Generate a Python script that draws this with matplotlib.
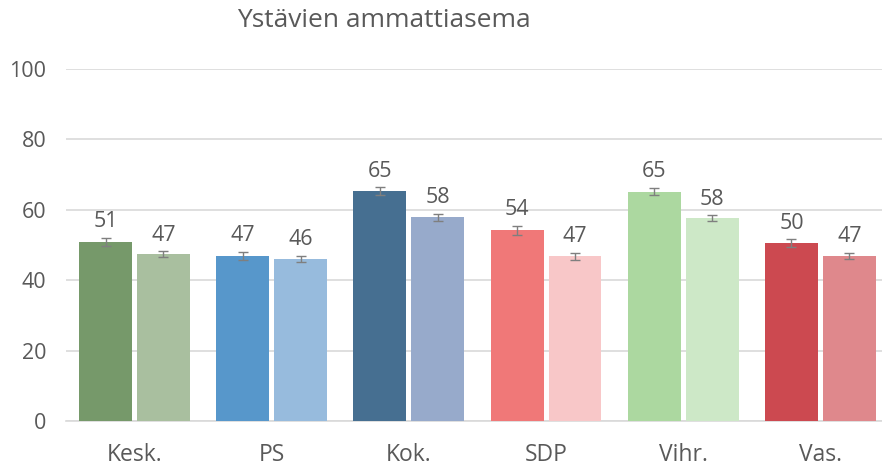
import matplotlib.pyplot as plt
import numpy as np

parties = ['Kesk.', 'PS', 'Kok.', 'SDP', 'Vihr.', 'Vas.']
vals_a = [50.8, 46.8, 65.2, 54.1, 65.1, 50.5]
vals_b = [47.3, 45.9, 57.8, 46.8, 57.6, 46.8]
err_a = [1.1, 1.2, 1.1, 1.3, 1.1, 1.1]
err_b = [0.8, 0.9, 1.0, 1.0, 0.8, 0.9]
labels_a = ['51', '47', '65', '54', '65', '50']
labels_b = ['47', '46', '58', '47', '58', '47']
colors_a = ['#76996a', '#5797cb', '#466f91', '#f07878', '#acd8a0', '#cc4950']
colors_b = ['#a9bf9f', '#97bbdd', '#97aacb', '#f8c7c8', '#cde8c7', '#df888c']

plt.rcParams['font.family'] = ['Open Sans', 'DejaVu Sans']
txt = '#595959'

fig = plt.figure(figsize=(8.82, 4.69), dpi=100)
# right edge runs past the figure, as in the original
ax = fig.add_axes([0.0748, 0.1023, 0.9331, 0.7515])

x = np.arange(len(parties))
w = 0.386
gap = 0.018
xa = x - w/2 - gap
xb = x + w/2 + gap
ax.bar(xa, vals_a, w, color=colors_a, zorder=3)
ax.bar(xb, vals_b, w, color=colors_b, zorder=3)
ax.errorbar(xa, vals_a, yerr=err_a, fmt='none', ecolor='#7f7f7f', elinewidth=1, capsize=3.6, zorder=4)
ax.errorbar(xb, vals_b, yerr=err_b, fmt='none', ecolor='#7f7f7f', elinewidth=1, capsize=3.6, zorder=4)
for xi, v, e, l in zip(xa, vals_a, err_a, labels_a):
    ax.text(xi, v + e + 1.6, l, ha='center', va='bottom', fontsize=15.5, color=txt)
for xi, v, e, l in zip(xb, vals_b, err_b, labels_b):
    ax.text(xi, v + e + 1.6, l, ha='center', va='bottom', fontsize=15.5, color=txt)

ax.set_ylim(0, 100)
ax.set_xlim(-0.5, len(parties) - 0.5)
ax.set_yticks([0, 20, 40, 60, 80, 100])
ax.set_xticks(x)
ax.set_xticklabels(parties)
ax.tick_params(axis='both', length=0, colors=txt)
ax.tick_params(axis='y', pad=14, labelsize=15.5)
ax.tick_params(axis='x', pad=16, labelsize=16.5)
ax.grid(axis='y', color='#d9d9d9', linewidth=1.2, zorder=0)
for s in ax.spines.values():
    s.set_visible(False)
ax.spines['bottom'].set_visible(True)
ax.spines['bottom'].set_color('#d9d9d9')
ax.spines['bottom'].set_linewidth(1.2)

fig.text(0.435, 0.957, 'Ystävien ammattiasema', ha='center', va='center', fontsize=19, color=txt)

fig.savefig('out.png', dpi=100)
